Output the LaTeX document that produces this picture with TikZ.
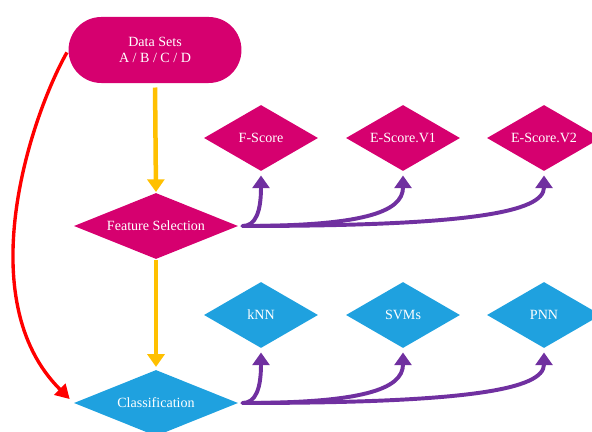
\documentclass[tikz,border=0pt]{standalone}
\usepackage{fontspec}
\setmainfont{Liberation Serif}
\usetikzlibrary{arrows.meta,calc,shapes.geometric}
\definecolor{dsmagenta}{HTML}{D6006F}
\definecolor{clblue}{HTML}{1FA1DF}
\definecolor{flowyellow}{HTML}{FFC000}
\definecolor{branchpurple}{HTML}{7030A0}
\definecolor{skipred}{HTML}{FF0000}
\tikzset{
  startbox/.style  = {rectangle, rounded corners=0.82cm, fill=dsmagenta, text=white,
                      minimum width=4.32cm, minimum height=1.65cm, align=center,
                      font=\fontsize{10}{11.5}\selectfont},
  bigdia/.style    = {diamond, aspect=2.5, inner sep=0pt, text=white, minimum width=4.1cm,
                      minimum height=1.65cm, font=\fontsize{10}{12}\selectfont},
  smalldia/.style  = {diamond, aspect=1.73, inner sep=0pt, text=white, minimum width=2.85cm,
                      minimum height=1.65cm, font=\fontsize{10}{12}\selectfont},
  flow/.style      = {-{Triangle[length=9pt,width=12pt]}, line width=3.2pt, draw=flowyellow},
  branch/.style    = {-{Triangle[length=9pt,width=12pt]}, line width=2.8pt, draw=branchpurple,
                      line cap=round},
  skip/.style      = {-{Triangle[length=10pt,width=11pt]}, line width=2.4pt, draw=skipred},
}

\begin{document}
\begin{tikzpicture}[x=0.025cm,y=-0.025cm]
  \useasboundingbox (0,0) rectangle (592,432);

  % main flow
  \node[startbox] (data) at (155,50) {Data Sets\\A / B / C / D};
  \node[bigdia, fill=dsmagenta] (fs)  at (156,226) {Feature Selection};
  \node[bigdia, fill=clblue]    (cls) at (156,403) {Classification};

  % feature scores
  \node[smalldia, fill=dsmagenta] (fscore) at (261,138) {F-Score};
  \node[smalldia, fill=dsmagenta] (escone) at (403,138) {E-Score.V1};
  \node[smalldia, fill=dsmagenta] (esctwo) at (544,138) {E-Score.V2};

  % classifiers
  \node[smalldia, fill=clblue] (knn) at (261,315) {kNN};
  \node[smalldia, fill=clblue] (svm) at (403,315) {SVMs};
  \node[smalldia, fill=clblue] (pnn) at (544,315) {PNN};

  \draw[flow, shorten <=3pt, shorten >=0.5pt] (data.south) -- (fs.north);
  \draw[flow, shorten <=0.5pt, shorten >=2pt] (fs.south) -- (cls.north);

  \draw[skip, shorten <=2pt, shorten >=4pt] (data.west) .. controls (30,118) and (-30,300) .. (cls.west);

  \foreach \tgt in {fscore,escone,esctwo}
    \draw[branch, shorten <=3pt, shorten >=3pt] (fs.east)
      .. controls ($(fs.east)!0.75!(fs.east -| \tgt.south)$) and ($(\tgt.south)!0.75!(\tgt.south |- fs.east)$)
      .. (\tgt.south);
  \foreach \tgt in {knn,svm,pnn}
    \draw[branch, shorten <=3pt, shorten >=3pt] (cls.east)
      .. controls ($(cls.east)!0.75!(cls.east -| \tgt.south)$) and ($(\tgt.south)!0.75!(\tgt.south |- cls.east)$)
      .. (\tgt.south);
\end{tikzpicture}
\end{document}
